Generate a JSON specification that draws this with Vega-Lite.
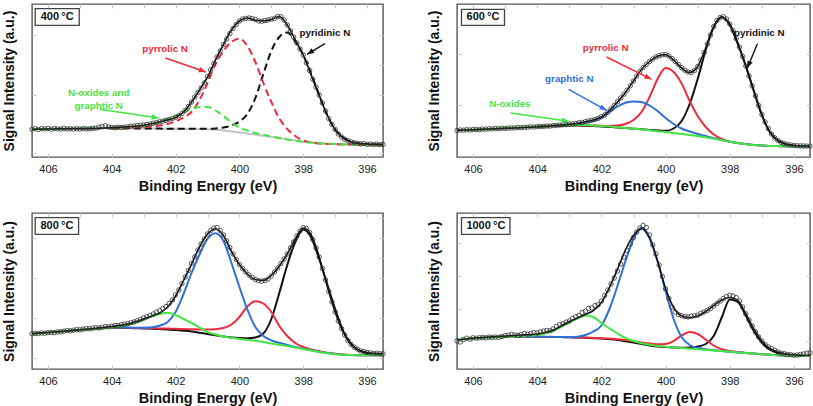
{
"$schema": "https://vega.github.io/schema/vega-lite/v6.json",
"padding": {"left": 1, "top": 2, "right": 0, "bottom": 0},
"background": "white",
"datasets": {
"pts": [{"e": [406.5,406.4,406.3,406.2,406.1,406,405.9,405.8,405.7,405.6,405.5,405.4,405.3,405.2,405.1,405,404.9,404.8,404.7,404.6,404.5,404.4,404.3,404.2,404.1,404,403.9,403.8,403.7,403.6,403.5,403.4,403.3,403.2,403.1,403,402.9,402.8,402.7,402.6,402.5,402.4,402.3,402.2,402.1,402,401.9,401.8,401.7,401.6,401.5,401.4,401.3,401.2,401.1,401,400.9,400.8,400.7,400.6,400.5,400.4,400.3,400.2,400.1,400,399.9,399.8,399.7,399.6,399.5,399.4,399.3,399.2,399.1,399,398.9,398.8,398.7,398.6,398.5,398.4,398.3,398.2,398.1,398,397.9,397.8,397.7,397.6,397.5,397.4,397.3,397.2,397.1,397,396.9,396.8,396.7,396.6,396.5,396.4,396.3,396.2,396.1,396,395.9,395.8,395.7,395.6,395.5],
"p400": [27.7,28.3,27.5,28.4,28,28.5,27.8,28.4,28.2,27.9,28.5,28,28.2,27.8,28.3,28,28.4,28.1,28.2,28.6,28.8,29.8,30.5,31.2,30,29.6,29.3,29.8,29.5,29.8,30.2,30.8,31,31.4,31.6,32,32.5,33,33.8,34.3,35.2,35.8,36.6,37.6,38.3,39.8,41.2,43.5,46.5,50.5,55,60,64.5,69,74,80.5,87,93.5,100,106,112.5,118,123.5,128.5,132.5,136,138,138.6,139,138.5,137.5,136,135.7,136.5,137,137.8,138.5,140.5,140.2,137,132,126,120,114,108,102,94,86.5,78,70,62,54,46,38.5,32.5,27.5,23,20,17.8,16.2,15,14.3,13.6,13.2,13.4,12.7,13,12.5,12.9,12.3,12.6],
"p600": [26.5,27,26.8,27.3,27.1,27.4,27.6,27.4,28,27.8,28.2,28.1,28.5,28.3,28.8,28.6,28.9,29.1,29,29.5,29.3,29.7,29.6,30.2,30,30.4,30.5,30.6,31,30.9,31.4,31.5,31.9,32.2,32.4,32.9,33.2,33.6,34.2,34.6,35.3,36,36.7,37.6,38.6,40.2,42,44.8,48,51.5,55.3,59,62.8,66.8,71.2,76,81,85.5,89.5,92.7,95.5,98,100,101.3,102.2,102.3,101,98.5,95.5,92.5,89.3,86.8,85,84.5,86.5,90.5,97,104.5,113,122,130.5,136.5,139.5,140.3,138,133,126.5,118.5,110,100.5,91,81,71,61,51.5,42.5,35,28.5,23,19.3,16.5,14.6,13.3,12.5,12,11.6,11.3,11.1,11,10.9,10.9],
"p800": [35.2,35.6,35.4,36,35.8,36.3,36.5,36.4,37,37.3,37.8,38.5,38.2,38.8,39.4,39.2,39.9,40.4,40.2,40.9,41.3,41,41.8,42.4,42.2,42.9,43.5,43.4,44.3,44.8,45.3,46.3,47,48.3,49.5,51,52.2,53.6,55,56.8,58.5,60.5,62.5,65.5,69,74,79,85.5,92,98.5,105.5,112,119,125,130,135,138.5,140.8,141.5,138.5,134,128,121.5,115,109.5,104.5,100.5,97,94,91.5,89.5,88.3,87.8,88.5,90,93,97,101,105.5,110,115,121,127,133,138,141.3,140.5,136.5,129.5,121,112,100.5,89,77.5,67,57,48,40.5,34,28.5,24.5,21.8,19.8,18,17.5,16.5,16.2,15.5,15.8,15.3,15.2],
"p1000": [28.2,27,29.5,30.8,29.8,31.2,30.8,31.3,31.6,31.2,31.8,31.6,32,31.7,32.5,33.4,33.8,34.6,34,33.6,34.6,35.5,34.8,35.7,36.4,36,37.3,38,38.5,38.3,40,42.5,44.5,45.3,46.8,48,50.5,52.3,53.5,56.5,57.8,60.5,61,63.5,64.3,68,73.5,79,85,91,98,105,112,118.5,125,131.5,137,141,143.5,141.5,134,124,115,104,92.5,80,70.5,62,57,54.5,53.3,52.5,52,52.8,53.3,53.8,55.7,57,58.5,60.5,63,65.5,68,70.5,72.5,73.7,73,71.5,68,62,55,49,43,37,32,28,24.5,22,20.5,18.8,17,15.8,15.3,14.5,14.3,13.7,14,14.5,15,15.8,16.2]}],
"curves": [
{"p": "400", "k": "background", "e": [406.5,406,405.5,405,404.5,404,403.75,403.5,403.25,403,402.75,402.5,402.25,402,401.75,401.5,401.25,401,400.75,400.5,400.25,400,399.75,399.5,399.25,399,398.75,398.5,398.25,398,397.75,397.5,397.25,397,396.75,396.5,396.25,396,395.75,395.5], "v": [27.9,28,28.2,28.4,28.6,28.8,28.8,28.8,28.7,28.6,28.5,28.4,28.3,28.2,28.1,28,27.9,27.7,27.3,26.6,25.6,24.5,23.5,22.4,21.3,20.2,19,17.7,16.4,15.3,14.4,13.7,13.2,12.9,12.6,12.5,12.4,12.3,12.3,12.3]},
{"p": "400", "k": "pyridinic", "e": [404,403.75,403.5,403.25,403,402.75,402.5,402.25,402,401.75,401.5,401.25,401,400.75,400.5,400.25,400,399.75,399.5,399.25,399,398.75,398.5,398.25,398,397.75,397.5,397.25,397,396.75,396.5,396.25,396,395.75,395.5], "v": [28.8,28.8,28.7,28.6,28.5,28.4,28.4,28.3,28.3,28.2,28.2,28.2,28.2,28.5,29.5,31.5,35.5,43,59,83,106,120,124.5,115.5,102,83,62,42,27.5,19.5,15.5,13.5,12.8,12.5,12.3]},
{"p": "400", "k": "pyrrolic", "e": [404,403.75,403.5,403.25,403,402.75,402.5,402.25,402,401.75,401.5,401.25,401,400.75,400.5,400.25,400,399.75,399.5,399.25,399,398.75,398.5,398.25,398,397.75,397.5,397.25,397,396.75,396.5,396.25,396,395.75,395.5], "v": [29,29.2,29.5,29.7,30,30.7,31.5,33,35.5,39.5,45,57,74,93,106,115,118.3,111,95,74,55,38.5,28,21,16.5,14.5,13.5,13.1,12.8,12.6,12.5,12.4,12.3,12.3,12.3]},
{"p": "400", "k": "oxides", "e": [406.5,406,405.5,405,404.5,404,403.75,403.5,403.25,403,402.75,402.5,402.25,402,401.75,401.5,401.25,401,400.75,400.5,400.25,400,399.75,399.5,399.25,399,398.75,398.5,398.25,398,397.75,397.5,397.25,397,396.75,396.5,396.25,396,395.75,395.5], "v": [28,28.1,28.3,28.5,28.7,29.3,29.6,30,30.5,31,32.8,35,38,41,45,48,49.8,50,46.5,41,34.5,29.5,26.5,24,22.2,20.5,19,17.5,16.2,15.2,14.4,13.8,13.4,13,12.7,12.5,12.4,12.3,12.3,12.3]},
{"p": "400", "k": "fit", "e": [406.5,406,405.5,405,404.5,404,403.5,403,402.75,402.5,402.25,402,401.75,401.5,401.25,401,400.75,400.5,400.25,400,399.75,399.5,399.25,399,398.75,398.5,398.25,398,397.75,397.5,397.25,397,396.75,396.5,396.25,396,395.75,395.5], "v": [27.8,28,28.2,28.3,28.5,29.4,30.2,31.8,33.2,35,37,39.5,45,55,67,80,97,112.5,127,136,139,136.8,136,137.5,140.5,132,117,102,82,61.5,42,27.5,19,15,13.6,13,12.6,12.4]},
{"p": "600", "k": "pyridinic", "e": [404,403.75,403.5,403.25,403,402.75,402.5,402.25,402,401.75,401.5,401.25,401,400.75,400.5,400.25,400,399.75,399.5,399.25,399,398.75,398.5,398.25,398,397.75,397.5,397.25,397,396.75,396.5,396.25,396,395.75,395.5], "v": [30.2,30.6,31,31.3,31.5,31.5,31.3,31,30.5,30,29.5,28.9,28.3,27.7,27,26.5,26.2,28.5,36,53,78,107,130,140,132,113,91,66,42,25,16.5,12.8,11.3,10.8,10.7]},
{"p": "600", "k": "pyrrolic", "e": [404,403.75,403.5,403.25,403,402.75,402.5,402.25,402,401.75,401.5,401.25,401,400.75,400.5,400.25,400,399.75,399.5,399.25,399,398.75,398.5,398.25,398,397.75,397.5,397.25,397,396.75,396.5,396.25,396,395.75,395.5], "v": [30.3,30.8,31.2,31.6,31.8,31.9,31.8,31.5,31.2,31.1,31.5,33,37,45,60,78,89,85,73.5,56,41,30,22.5,18,15.3,14,12.9,12.1,11.5,11.1,10.9,10.8,10.7,10.7,10.7]},
{"p": "600", "k": "graphitic", "e": [404,403.75,403.5,403.25,403,402.75,402.5,402.25,402,401.75,401.5,401.25,401,400.75,400.5,400.25,400,399.75,399.5,399.25,399,398.75,398.5,398.25,398,397.75,397.5,397.25,397,396.75,396.5,396.25,396,395.75,395.5], "v": [30.5,31,31.5,32,32.5,33,34.5,36.5,39.5,45,50.5,54.3,55.6,55,51.5,46,39,33,28.5,25.5,23,21,18.8,17,15.3,14,12.9,12.1,11.5,11.1,10.9,10.8,10.7,10.7,10.7]},
{"p": "600", "k": "oxides", "e": [406.5,406,405.5,405,404.5,404,403.75,403.5,403.25,403,402.75,402.5,402.25,402,401.75,401.5,401.25,401,400.75,400.5,400.25,400,399.75,399.5,399.25,399,398.75,398.5,398.25,398,397.75,397.5,397.25,397,396.75,396.5,396.25,396,395.75,395.5], "v": [26.7,27.3,28,28.7,29.5,30.3,30.8,31.3,31.7,32,32.1,32,31.6,31,30.4,29.7,29,28.3,27.5,26.7,25.8,25,24,23,22,21,19.7,18.3,16.8,15.2,13.9,12.8,12,11.5,11.1,10.9,10.8,10.7,10.7,10.7]},
{"p": "600", "k": "fit", "e": [406.5,406,405.5,405,404.5,404,403.5,403,402.75,402.5,402.25,402,401.75,401.5,401.25,401,400.75,400.5,400.25,400,399.75,399.5,399.25,399,398.75,398.5,398.25,398,397.75,397.5,397.25,397,396.75,396.5,396.25,396,395.75,395.5], "v": [26.7,27.3,28,28.6,29.3,30.2,31.2,32.8,33.8,35.2,37,40,46.5,55,64.5,76,87.5,95.5,100.8,102.2,97,89,84.5,90.5,109,130.5,140,133,114,91,66,42,25,16.5,12.8,11.5,11,10.8]},
{"p": "800", "k": "pyridinic", "e": [404,403.75,403.5,403.25,403,402.75,402.5,402.25,402,401.75,401.5,401.25,401,400.75,400.5,400.25,400,399.75,399.5,399.25,399,398.75,398.5,398.25,398,397.75,397.5,397.25,397,396.75,396.5,396.25,396,395.75,395.5], "v": [41.3,41.2,41,40.8,40.5,40.3,40,39.5,39,38.3,37.5,36.3,35,33.7,32.5,31.6,31,30.8,31.5,35.5,50,76,104,127,139.5,131.5,110,85,60,38,25,18.5,15.8,15,14.7]},
{"p": "800", "k": "pyrrolic", "e": [404,403.75,403.5,403.25,403,402.75,402.5,402.25,402,401.75,401.5,401.25,401,400.75,400.5,400.25,400,399.75,399.5,399.25,399,398.75,398.5,398.25,398,397.75,397.5,397.25,397,396.75,396.5,396.25,396,395.75,395.5], "v": [41.5,41.4,41.3,41.1,41,40.8,40.6,40.4,40.2,40,39.8,39.6,39.4,39.8,41,44.5,52,62.5,67.8,65.5,57,43,33,26,22,19.6,17.8,16.3,15.2,14.5,14,13.8,13.7,13.7,13.7]},
{"p": "800", "k": "graphitic", "e": [404,403.75,403.5,403.25,403,402.75,402.5,402.25,402,401.75,401.5,401.25,401,400.75,400.5,400.25,400,399.75,399.5,399.25,399,398.75,398.5,398.25,398,397.75,397.5,397.25,397,396.75,396.5,396.25,396,395.75,395.5], "v": [41.5,41.5,41.4,41.3,41.3,41.8,43.3,47,57,75,96,114.5,130,135.7,128,106,82,59.5,42,33,28.7,26.2,24,22,20.3,18.7,17.2,15.9,14.9,14.3,14,13.8,13.7,13.7,13.7]},
{"p": "800", "k": "oxides", "e": [406.5,406,405.5,405,404.5,404,403.75,403.5,403.25,403,402.75,402.5,402.25,402,401.75,401.5,401.25,401,400.75,400.5,400.25,400,399.75,399.5,399.25,399,398.75,398.5,398.25,398,397.75,397.5,397.25,397,396.75,396.5,396.25,396,395.75,395.5], "v": [35.3,36.5,37.8,39,40,41.5,42.5,44,46.5,49.5,52.5,55,56.3,54,50,46,41.5,37,34.5,32.5,31.2,30,29.2,28.3,27,25.5,24.3,23,21.5,20,18.5,17,15.8,14.8,14.3,14,13.8,13.7,13.7,13.7]},
{"p": "800", "k": "fit", "e": [406.5,406,405.5,405,404.5,404,403.5,403,402.75,402.5,402.25,402,401.75,401.5,401.25,401,400.75,400.5,400.25,400,399.75,399.5,399.25,399,398.75,398.5,398.25,398,397.75,397.5,397.25,397,396.75,396.5,396.25,396,395.75,395.5], "v": [35.3,36.5,37.8,39.3,40.8,42.5,45,50,53,56,62,73,88.5,105,122,135,140.3,133.5,117.5,104.5,95,89.5,88.5,93.5,103,115,130,141,134,112,83,57,37,24.5,18.8,16.5,15.6,15.2]},
{"p": "1000", "k": "pyridinic", "e": [404.75,404,403.75,403.5,403.25,403,402.75,402.5,402.25,402,401.75,401.5,401.25,401,400.75,400.5,400.25,400,399.75,399.5,399.25,399,398.75,398.5,398.25,398,397.75,397.5,397.25,397,396.75,396.5,396.25,396,395.75,395.5], "v": [32.4,32.2,32.1,32,31.9,31.8,31.5,31.2,30.8,30.5,29.8,29,27.8,26.5,25,23.5,22.6,22,21.6,21.3,21.5,22.5,25,33,51.5,69.5,67,53.5,38,26.5,19.3,15.8,14.2,13.4,13.1,13]},
{"p": "1000", "k": "pyrrolic", "e": [404.75,404,403.75,403.5,403.25,403,402.75,402.5,402.25,402,401.75,401.5,401.25,401,400.75,400.5,400.25,400,399.75,399.5,399.25,399,398.75,398.5,398.25,398,397.75,397.5,397.25,397,396.75,396.5,396.25,396,395.75,395.5], "v": [32.4,32.2,32.1,32,31.9,31.8,31.6,31.4,31.1,30.8,30.3,29.8,29,27.8,26.6,25.5,24.8,25,28,33.5,37,35,29.5,23.5,19.8,18,17,16.1,15.4,14.8,14.3,13.8,13.4,13.1,13,13]},
{"p": "1000", "k": "graphitic", "e": [404.75,404,403.75,403.5,403.25,403,402.75,402.5,402.25,402,401.75,401.5,401.25,401,400.75,400.5,400.25,400,399.75,399.5,399.25,399,398.75,398.5,398.25,398,397.75,397.5,397.25,397,396.75,396.5,396.25,396,395.75,395.5], "v": [32.4,32.2,32.2,32.1,32,32,32.3,34,37.5,43.5,60,83,108,130,141.3,132,107.5,78,50,32,24,21.2,19.8,18.8,18,17.3,16.6,16,15.4,14.8,14.3,13.8,13.4,13.1,13,13]},
{"p": "1000", "k": "oxides", "e": [406.5,406,405.5,405,404.5,404,403.75,403.5,403.25,403,402.75,402.5,402.25,402,401.75,401.5,401.25,401,400.75,400.5,400.25,400,399.75,399.5,399.25,399,398.75,398.5,398.25,398,397.75,397.5,397.25,397,396.75,396.5,396.25,396,395.75,395.5], "v": [29.5,30.5,31.3,32,32.7,34,35.5,38,42,46.5,50.5,53.5,52,46,40.5,35.5,31,28,25.8,24.2,23.1,22.3,21.6,21,20.3,19.7,19.1,18.5,17.9,17.3,16.6,16,15.4,14.8,14.3,13.8,13.4,13.1,13,13]},
{"p": "1000", "k": "fit", "e": [406.5,406,405.5,405,404.5,404,403.5,403,402.75,402.5,402.25,402,401.75,401.5,401.25,401,400.75,400.5,400.25,400,399.75,399.5,399.25,399,398.75,398.5,398.25,398,397.75,397.5,397.25,397,396.75,396.5,396.25,396,395.75,395.5], "v": [29,30.8,32,33,34,35,39,47.5,51,54.5,58.5,66.5,81.5,99.7,119,133.5,140.5,130.5,108,80.5,61.5,53,51.3,53,57.5,63.5,69,71.5,68.5,55,40,28,20.5,17,15,14.2,13.8,13.5]}
],
"notes": [
{"p": "400", "t": "pyrrolic N", "e": 402.33, "v": 108, "k": "pyrrolic"},
{"p": "400", "t": "pyridinic N", "e": 397.32, "v": 124.3, "k": "pyridinic"},
{"p": "400", "t": "N-oxides  and\ngraphtic N", "e": 404.41, "v": 64, "k": "oxides"},
{"p": "600", "t": "pyrrolic N", "e": 401.87, "v": 109, "k": "pyrrolic"},
{"p": "600", "t": "graphtic N", "e": 403.0, "v": 77.7, "k": "graphitic"},
{"p": "600", "t": "N-oxides", "e": 404.85, "v": 52.7, "k": "oxides"},
{"p": "600", "t": "pyridinic N", "e": 397.08, "v": 124.3, "k": "pyridinic"}
],
"arrows": [
{"p": "400", "k": "pyrrolic", "e1": 402.32, "v1": 99, "e2": 401.05, "v2": 85, "a": 109},
{"p": "400", "k": "pyridinic", "e1": 397.32, "v1": 113.3, "e2": 397.88, "v2": 102.7, "a": 239},
{"p": "400", "k": "oxides", "e1": 404.38, "v1": 47.7, "e2": 402.53, "v2": 39, "a": 98},
{"p": "600", "k": "pyrrolic", "e1": 401.84, "v1": 100, "e2": 400.44, "v2": 77.7, "a": 116},
{"p": "600", "k": "graphitic", "e1": 403.02, "v1": 67.7, "e2": 401.84, "v2": 46.7, "a": 119},
{"p": "600", "k": "oxides", "e1": 404.83, "v1": 44, "e2": 403.02, "v2": 35.7, "a": 98},
{"p": "600", "k": "pyridinic", "e1": 397.14, "v1": 113.3, "e2": 397.45, "v2": 89, "a": 202}
],
"boxes": [
{"p": "400", "t": "400\u2009°C", "x1": 406.4, "x2": 405.02, "y1": 131.7, "y2": 148.3, "xc": 405.71, "yc": 140},
{"p": "600", "t": "600\u2009°C", "x1": 406.36, "x2": 405.02, "y1": 131.7, "y2": 147.7, "xc": 405.69, "yc": 139.7},
{"p": "800", "t": "800\u2009°C", "x1": 406.4, "x2": 405.04, "y1": 134.7, "y2": 151.3, "xc": 405.72, "yc": 143},
{"p": "1000", "t": "1000\u2009°C", "x1": 406.36, "x2": 404.85, "y1": 134.7, "y2": 151.3, "xc": 405.6, "yc": 143}
]
},
"spacing": 17,
"vconcat": [
{"spacing": 38, "hconcat": [
{"width": 351, "height": 153,
 "resolve": {"axis": {"x": "independent", "y": "independent"}},
 "layer": [
  {"layer": [
   {"data": {"name": "curves"}, "transform": [{"filter": "datum.p === '400' && datum.k === 'background'"}, {"flatten": ["e", "v"]}],
    "mark": {"type": "line", "interpolate": "monotone", "strokeWidth": 2, "color": "#c4c4c4"},
    "encoding": {
     "x": {"field": "e", "type": "quantitative", "title": "Binding Energy (eV)", "scale": {"domain": [395.5, 406.5], "reverse": true, "nice": false, "zero": false}, "axis": {"values": [396,397,398,399,400,401,402,403,404,405,406], "labelExpr": "datum.value % 2 === 0 ? datum.label : ''"}},
     "y": {"field": "v", "type": "quantitative", "title": "Signal Intensity (a.u.)", "scale": {"domain": [0, 153], "nice": false, "zero": false}, "axis": {"values": [4, 33, 62, 92, 122]}}}},
   {"data": {"name": "curves"}, "transform": [{"filter": "datum.p === '400' && datum.k !== 'background' && datum.k !== 'fit'"}, {"flatten": ["e", "v"]}],
    "mark": {"type": "line", "interpolate": "monotone", "strokeWidth": 2, "strokeDash": [7, 4]},
    "encoding": {
     "x": {"field": "e", "type": "quantitative", "scale": {"domain": [395.5, 406.5], "reverse": true, "nice": false, "zero": false}},
     "y": {"field": "v", "type": "quantitative", "scale": {"domain": [0, 153], "nice": false, "zero": false}},
     "color": {"field": "k", "type": "nominal", "legend": null, "scale": {"domain": ["pyridinic", "pyrrolic", "graphitic", "oxides", "background"], "range": ["#111111", "#ee2a3b", "#2f6fd8", "#44e444", "#c4c4c4"]}}}},
   {"data": {"name": "curves"}, "transform": [{"filter": "datum.p === '400' && datum.k === 'fit'"}, {"flatten": ["e", "v"]}],
    "mark": {"type": "line", "interpolate": "monotone", "strokeWidth": 1.6, "color": "#111111"},
    "encoding": {
     "x": {"field": "e", "type": "quantitative", "scale": {"domain": [395.5, 406.5], "reverse": true, "nice": false, "zero": false}},
     "y": {"field": "v", "type": "quantitative", "scale": {"domain": [0, 153], "nice": false, "zero": false}}}},
   {"data": {"name": "pts"}, "transform": [{"flatten": ["e", "p400"]}],
    "mark": {"type": "point", "filled": false, "size": 20, "strokeWidth": 0.8, "color": "#333333", "opacity": 1},
    "encoding": {
     "x": {"field": "e", "type": "quantitative", "scale": {"domain": [395.5, 406.5], "reverse": true, "nice": false, "zero": false}},
     "y": {"field": "p400", "type": "quantitative", "scale": {"domain": [0, 153], "nice": false, "zero": false}}}},
   {"data": {"name": "arrows"}, "transform": [{"filter": "datum.p === '400'"}],
    "mark": {"type": "rule", "strokeWidth": 1.4},
    "encoding": {
     "x": {"field": "e1", "type": "quantitative", "scale": {"domain": [395.5, 406.5], "reverse": true, "nice": false, "zero": false}},
     "y": {"field": "v1", "type": "quantitative", "scale": {"domain": [0, 153], "nice": false, "zero": false}},
     "x2": {"field": "e2"}, "y2": {"field": "v2"},
     "color": {"field": "k", "type": "nominal", "legend": null, "scale": {"domain": ["pyridinic", "pyrrolic", "graphitic", "oxides", "background"], "range": ["#111111", "#ee2a3b", "#2f6fd8", "#44e444", "#c4c4c4"]}}}},
   {"data": {"name": "arrows"}, "transform": [{"filter": "datum.p === '400'"}],
    "mark": {"type": "point", "shape": "M0,0L-0.55,1.4L0.55,1.4Z", "filled": true, "size": 100, "opacity": 1, "strokeWidth": 0},
    "encoding": {
     "x": {"field": "e2", "type": "quantitative", "scale": {"domain": [395.5, 406.5], "reverse": true, "nice": false, "zero": false}},
     "y": {"field": "v2", "type": "quantitative", "scale": {"domain": [0, 153], "nice": false, "zero": false}},
     "angle": {"field": "a", "type": "quantitative", "scale": null},
     "color": {"field": "k", "type": "nominal", "legend": null, "scale": {"domain": ["pyridinic", "pyrrolic", "graphitic", "oxides", "background"], "range": ["#111111", "#ee2a3b", "#2f6fd8", "#44e444", "#c4c4c4"]}}}},
   {"data": {"name": "notes"}, "transform": [{"filter": "datum.p === '400'"}],
    "mark": {"type": "text", "fontWeight": "bold", "fontSize": 9.8, "lineBreak": "\n", "lineHeight": 13},
    "encoding": {
     "x": {"field": "e", "type": "quantitative", "scale": {"domain": [395.5, 406.5], "reverse": true, "nice": false, "zero": false}},
     "y": {"field": "v", "type": "quantitative", "scale": {"domain": [0, 153], "nice": false, "zero": false}},
     "text": {"field": "t"},
     "color": {"field": "k", "type": "nominal", "legend": null, "scale": {"domain": ["pyridinic", "pyrrolic", "graphitic", "oxides", "background"], "range": ["#111111", "#ee2a3b", "#2f6fd8", "#44e444", "#c4c4c4"]}}}}
  ]},
  {"data": {"name": "boxes"}, "transform": [{"filter": "datum.p === '400'"}],
   "layer": [
    {"mark": {"type": "rect", "fill": "white", "stroke": "#444444", "strokeWidth": 1.3},
     "encoding": {
      "x": {"field": "x1", "type": "quantitative", "scale": {"domain": [395.5, 406.5], "reverse": true, "nice": false, "zero": false}, "axis": {"orient": "top", "labels": false, "title": null, "values": [396,397,398,399,400,401,402,403,404,405,406]}},
      "x2": {"field": "x2"},
      "y": {"field": "y1", "type": "quantitative", "scale": {"domain": [0, 153], "nice": false, "zero": false}, "axis": {"orient": "right", "labels": false, "title": null, "values": [4, 33, 62, 92, 122]}},
      "y2": {"field": "y2"}}},
    {"mark": {"type": "text", "fontWeight": "bold", "fontSize": 11, "color": "#111111"},
     "encoding": {
      "x": {"field": "xc", "type": "quantitative", "scale": {"domain": [395.5, 406.5], "reverse": true, "nice": false, "zero": false}, "axis": {"orient": "top", "labels": false, "title": null, "values": [396,397,398,399,400,401,402,403,404,405,406]}},
      "y": {"field": "yc", "type": "quantitative", "scale": {"domain": [0, 153], "nice": false, "zero": false}, "axis": {"orient": "right", "labels": false, "title": null, "values": [4, 33, 62, 92, 122]}},
      "text": {"field": "t"}}}
   ]}
 ]},
{"width": 353, "height": 153,
 "resolve": {"axis": {"x": "independent", "y": "independent"}},
 "layer": [
  {"layer": [
   {"data": {"name": "curves"}, "transform": [{"filter": "datum.p === '600' && datum.k !== 'fit'"}, {"flatten": ["e", "v"]}],
    "mark": {"type": "line", "interpolate": "monotone", "strokeWidth": 2},
    "encoding": {
     "x": {"field": "e", "type": "quantitative", "title": "Binding Energy (eV)", "scale": {"domain": [395.5, 406.5], "reverse": true, "nice": false, "zero": false}, "axis": {"values": [396,397,398,399,400,401,402,403,404,405,406], "labelExpr": "datum.value % 2 === 0 ? datum.label : ''"}},
     "y": {"field": "v", "type": "quantitative", "title": "Signal Intensity (a.u.)", "scale": {"domain": [0, 153], "nice": false, "zero": false}, "axis": {"values": [52, 103]}},
     "color": {"field": "k", "type": "nominal", "legend": null, "scale": {"domain": ["pyridinic", "pyrrolic", "graphitic", "oxides", "background"], "range": ["#111111", "#ee2a3b", "#2f6fd8", "#44e444", "#c4c4c4"]}}}},
   {"data": {"name": "curves"}, "transform": [{"filter": "datum.p === '600' && datum.k === 'fit'"}, {"flatten": ["e", "v"]}],
    "mark": {"type": "line", "interpolate": "monotone", "strokeWidth": 1.6, "color": "#111111"},
    "encoding": {
     "x": {"field": "e", "type": "quantitative", "scale": {"domain": [395.5, 406.5], "reverse": true, "nice": false, "zero": false}},
     "y": {"field": "v", "type": "quantitative", "scale": {"domain": [0, 153], "nice": false, "zero": false}}}},
   {"data": {"name": "pts"}, "transform": [{"flatten": ["e", "p600"]}],
    "mark": {"type": "point", "filled": false, "size": 20, "strokeWidth": 0.8, "color": "#333333", "opacity": 1},
    "encoding": {
     "x": {"field": "e", "type": "quantitative", "scale": {"domain": [395.5, 406.5], "reverse": true, "nice": false, "zero": false}},
     "y": {"field": "p600", "type": "quantitative", "scale": {"domain": [0, 153], "nice": false, "zero": false}}}},
   {"data": {"name": "arrows"}, "transform": [{"filter": "datum.p === '600'"}],
    "mark": {"type": "rule", "strokeWidth": 1.4},
    "encoding": {
     "x": {"field": "e1", "type": "quantitative", "scale": {"domain": [395.5, 406.5], "reverse": true, "nice": false, "zero": false}},
     "y": {"field": "v1", "type": "quantitative", "scale": {"domain": [0, 153], "nice": false, "zero": false}},
     "x2": {"field": "e2"}, "y2": {"field": "v2"},
     "color": {"field": "k", "type": "nominal", "legend": null, "scale": {"domain": ["pyridinic", "pyrrolic", "graphitic", "oxides", "background"], "range": ["#111111", "#ee2a3b", "#2f6fd8", "#44e444", "#c4c4c4"]}}}},
   {"data": {"name": "arrows"}, "transform": [{"filter": "datum.p === '600'"}],
    "mark": {"type": "point", "shape": "M0,0L-0.55,1.4L0.55,1.4Z", "filled": true, "size": 100, "opacity": 1, "strokeWidth": 0},
    "encoding": {
     "x": {"field": "e2", "type": "quantitative", "scale": {"domain": [395.5, 406.5], "reverse": true, "nice": false, "zero": false}},
     "y": {"field": "v2", "type": "quantitative", "scale": {"domain": [0, 153], "nice": false, "zero": false}},
     "angle": {"field": "a", "type": "quantitative", "scale": null},
     "color": {"field": "k", "type": "nominal", "legend": null, "scale": {"domain": ["pyridinic", "pyrrolic", "graphitic", "oxides", "background"], "range": ["#111111", "#ee2a3b", "#2f6fd8", "#44e444", "#c4c4c4"]}}}},
   {"data": {"name": "notes"}, "transform": [{"filter": "datum.p === '600'"}],
    "mark": {"type": "text", "fontWeight": "bold", "fontSize": 9.8, "lineBreak": "\n", "lineHeight": 13},
    "encoding": {
     "x": {"field": "e", "type": "quantitative", "scale": {"domain": [395.5, 406.5], "reverse": true, "nice": false, "zero": false}},
     "y": {"field": "v", "type": "quantitative", "scale": {"domain": [0, 153], "nice": false, "zero": false}},
     "text": {"field": "t"},
     "color": {"field": "k", "type": "nominal", "legend": null, "scale": {"domain": ["pyridinic", "pyrrolic", "graphitic", "oxides", "background"], "range": ["#111111", "#ee2a3b", "#2f6fd8", "#44e444", "#c4c4c4"]}}}}
  ]},
  {"data": {"name": "boxes"}, "transform": [{"filter": "datum.p === '600'"}],
   "layer": [
    {"mark": {"type": "rect", "fill": "white", "stroke": "#444444", "strokeWidth": 1.3},
     "encoding": {
      "x": {"field": "x1", "type": "quantitative", "scale": {"domain": [395.5, 406.5], "reverse": true, "nice": false, "zero": false}, "axis": {"orient": "top", "labels": false, "title": null, "values": [396,397,398,399,400,401,402,403,404,405,406]}},
      "x2": {"field": "x2"},
      "y": {"field": "y1", "type": "quantitative", "scale": {"domain": [0, 153], "nice": false, "zero": false}, "axis": {"orient": "right", "labels": false, "title": null, "values": [52, 103]}},
      "y2": {"field": "y2"}}},
    {"mark": {"type": "text", "fontWeight": "bold", "fontSize": 11, "color": "#111111"},
     "encoding": {
      "x": {"field": "xc", "type": "quantitative", "scale": {"domain": [395.5, 406.5], "reverse": true, "nice": false, "zero": false}, "axis": {"orient": "top", "labels": false, "title": null, "values": [396,397,398,399,400,401,402,403,404,405,406]}},
      "y": {"field": "yc", "type": "quantitative", "scale": {"domain": [0, 153], "nice": false, "zero": false}, "axis": {"orient": "right", "labels": false, "title": null, "values": [52, 103]}},
      "text": {"field": "t"}}}
   ]}
 ]}
]},
{"spacing": 38, "hconcat": [
{"width": 351, "height": 156,
 "resolve": {"axis": {"x": "independent", "y": "independent"}},
 "layer": [
  {"layer": [
   {"data": {"name": "curves"}, "transform": [{"filter": "datum.p === '800' && datum.k !== 'fit'"}, {"flatten": ["e", "v"]}],
    "mark": {"type": "line", "interpolate": "monotone", "strokeWidth": 2},
    "encoding": {
     "x": {"field": "e", "type": "quantitative", "title": "Binding Energy (eV)", "scale": {"domain": [395.5, 406.5], "reverse": true, "nice": false, "zero": false}, "axis": {"values": [396,397,398,399,400,401,402,403,404,405,406], "labelExpr": "datum.value % 2 === 0 ? datum.label : ''"}},
     "y": {"field": "v", "type": "quantitative", "title": "Signal Intensity (a.u.)", "scale": {"domain": [0, 156], "nice": false, "zero": false}, "axis": {"values": [11, 31, 51, 71, 91, 111, 131, 151]}},
     "color": {"field": "k", "type": "nominal", "legend": null, "scale": {"domain": ["pyridinic", "pyrrolic", "graphitic", "oxides", "background"], "range": ["#111111", "#ee2a3b", "#2f6fd8", "#44e444", "#c4c4c4"]}}}},
   {"data": {"name": "curves"}, "transform": [{"filter": "datum.p === '800' && datum.k === 'fit'"}, {"flatten": ["e", "v"]}],
    "mark": {"type": "line", "interpolate": "monotone", "strokeWidth": 1.6, "color": "#111111"},
    "encoding": {
     "x": {"field": "e", "type": "quantitative", "scale": {"domain": [395.5, 406.5], "reverse": true, "nice": false, "zero": false}},
     "y": {"field": "v", "type": "quantitative", "scale": {"domain": [0, 156], "nice": false, "zero": false}}}},
   {"data": {"name": "pts"}, "transform": [{"flatten": ["e", "p800"]}],
    "mark": {"type": "point", "filled": false, "size": 20, "strokeWidth": 0.8, "color": "#333333", "opacity": 1},
    "encoding": {
     "x": {"field": "e", "type": "quantitative", "scale": {"domain": [395.5, 406.5], "reverse": true, "nice": false, "zero": false}},
     "y": {"field": "p800", "type": "quantitative", "scale": {"domain": [0, 156], "nice": false, "zero": false}}}}
  ]},
  {"data": {"name": "boxes"}, "transform": [{"filter": "datum.p === '800'"}],
   "layer": [
    {"mark": {"type": "rect", "fill": "white", "stroke": "#444444", "strokeWidth": 1.3},
     "encoding": {
      "x": {"field": "x1", "type": "quantitative", "scale": {"domain": [395.5, 406.5], "reverse": true, "nice": false, "zero": false}, "axis": {"orient": "top", "labels": false, "title": null, "values": [396,397,398,399,400,401,402,403,404,405,406]}},
      "x2": {"field": "x2"},
      "y": {"field": "y1", "type": "quantitative", "scale": {"domain": [0, 156], "nice": false, "zero": false}, "axis": {"orient": "right", "labels": false, "title": null, "values": [11, 31, 51, 71, 91, 111, 131, 151]}},
      "y2": {"field": "y2"}}},
    {"mark": {"type": "text", "fontWeight": "bold", "fontSize": 11, "color": "#111111"},
     "encoding": {
      "x": {"field": "xc", "type": "quantitative", "scale": {"domain": [395.5, 406.5], "reverse": true, "nice": false, "zero": false}, "axis": {"orient": "top", "labels": false, "title": null, "values": [396,397,398,399,400,401,402,403,404,405,406]}},
      "y": {"field": "yc", "type": "quantitative", "scale": {"domain": [0, 156], "nice": false, "zero": false}, "axis": {"orient": "right", "labels": false, "title": null, "values": [11, 31, 51, 71, 91, 111, 131, 151]}},
      "text": {"field": "t"}}}
   ]}
 ]},
{"width": 353, "height": 156,
 "resolve": {"axis": {"x": "independent", "y": "independent"}},
 "layer": [
  {"layer": [
   {"data": {"name": "curves"}, "transform": [{"filter": "datum.p === '1000' && datum.k !== 'fit'"}, {"flatten": ["e", "v"]}],
    "mark": {"type": "line", "interpolate": "monotone", "strokeWidth": 2},
    "encoding": {
     "x": {"field": "e", "type": "quantitative", "title": "Binding Energy (eV)", "scale": {"domain": [395.5, 406.5], "reverse": true, "nice": false, "zero": false}, "axis": {"values": [396,397,398,399,400,401,402,403,404,405,406], "labelExpr": "datum.value % 2 === 0 ? datum.label : ''"}},
     "y": {"field": "v", "type": "quantitative", "title": "Signal Intensity (a.u.)", "scale": {"domain": [0, 156], "nice": false, "zero": false}, "axis": {"values": [28, 60, 93, 126]}},
     "color": {"field": "k", "type": "nominal", "legend": null, "scale": {"domain": ["pyridinic", "pyrrolic", "graphitic", "oxides", "background"], "range": ["#111111", "#ee2a3b", "#2f6fd8", "#44e444", "#c4c4c4"]}}}},
   {"data": {"name": "curves"}, "transform": [{"filter": "datum.p === '1000' && datum.k === 'fit'"}, {"flatten": ["e", "v"]}],
    "mark": {"type": "line", "interpolate": "monotone", "strokeWidth": 1.6, "color": "#111111"},
    "encoding": {
     "x": {"field": "e", "type": "quantitative", "scale": {"domain": [395.5, 406.5], "reverse": true, "nice": false, "zero": false}},
     "y": {"field": "v", "type": "quantitative", "scale": {"domain": [0, 156], "nice": false, "zero": false}}}},
   {"data": {"name": "pts"}, "transform": [{"flatten": ["e", "p1000"]}],
    "mark": {"type": "point", "filled": false, "size": 20, "strokeWidth": 0.8, "color": "#333333", "opacity": 1},
    "encoding": {
     "x": {"field": "e", "type": "quantitative", "scale": {"domain": [395.5, 406.5], "reverse": true, "nice": false, "zero": false}},
     "y": {"field": "p1000", "type": "quantitative", "scale": {"domain": [0, 156], "nice": false, "zero": false}}}}
  ]},
  {"data": {"name": "boxes"}, "transform": [{"filter": "datum.p === '1000'"}],
   "layer": [
    {"mark": {"type": "rect", "fill": "white", "stroke": "#444444", "strokeWidth": 1.3},
     "encoding": {
      "x": {"field": "x1", "type": "quantitative", "scale": {"domain": [395.5, 406.5], "reverse": true, "nice": false, "zero": false}, "axis": {"orient": "top", "labels": false, "title": null, "values": [396,397,398,399,400,401,402,403,404,405,406]}},
      "x2": {"field": "x2"},
      "y": {"field": "y1", "type": "quantitative", "scale": {"domain": [0, 156], "nice": false, "zero": false}, "axis": {"orient": "right", "labels": false, "title": null, "values": [28, 60, 93, 126]}},
      "y2": {"field": "y2"}}},
    {"mark": {"type": "text", "fontWeight": "bold", "fontSize": 11, "color": "#111111"},
     "encoding": {
      "x": {"field": "xc", "type": "quantitative", "scale": {"domain": [395.5, 406.5], "reverse": true, "nice": false, "zero": false}, "axis": {"orient": "top", "labels": false, "title": null, "values": [396,397,398,399,400,401,402,403,404,405,406]}},
      "y": {"field": "yc", "type": "quantitative", "scale": {"domain": [0, 156], "nice": false, "zero": false}, "axis": {"orient": "right", "labels": false, "title": null, "values": [28, 60, 93, 126]}},
      "text": {"field": "t"}}}
   ]}
 ]}
]}
],
"config": {
 "font": "Liberation Sans",
 "view": {"stroke": "#555555", "strokeWidth": 1.4},
 "axis": {"grid": false, "domain": false, "tickSize": -4, "tickColor": "#c8c8c8", "tickWidth": 1, "labelFont": "Liberation Sans", "titleFont": "Liberation Sans", "titleFontWeight": "bold", "titleColor": "#111111", "labelColor": "#222222"},
 "axisX": {"labelFontSize": 11, "labelPadding": 10, "titleFontSize": 14.5, "titlePadding": 5},
 "axisY": {"labels": false, "titleFontSize": 14, "titlePadding": 15}
}
}
